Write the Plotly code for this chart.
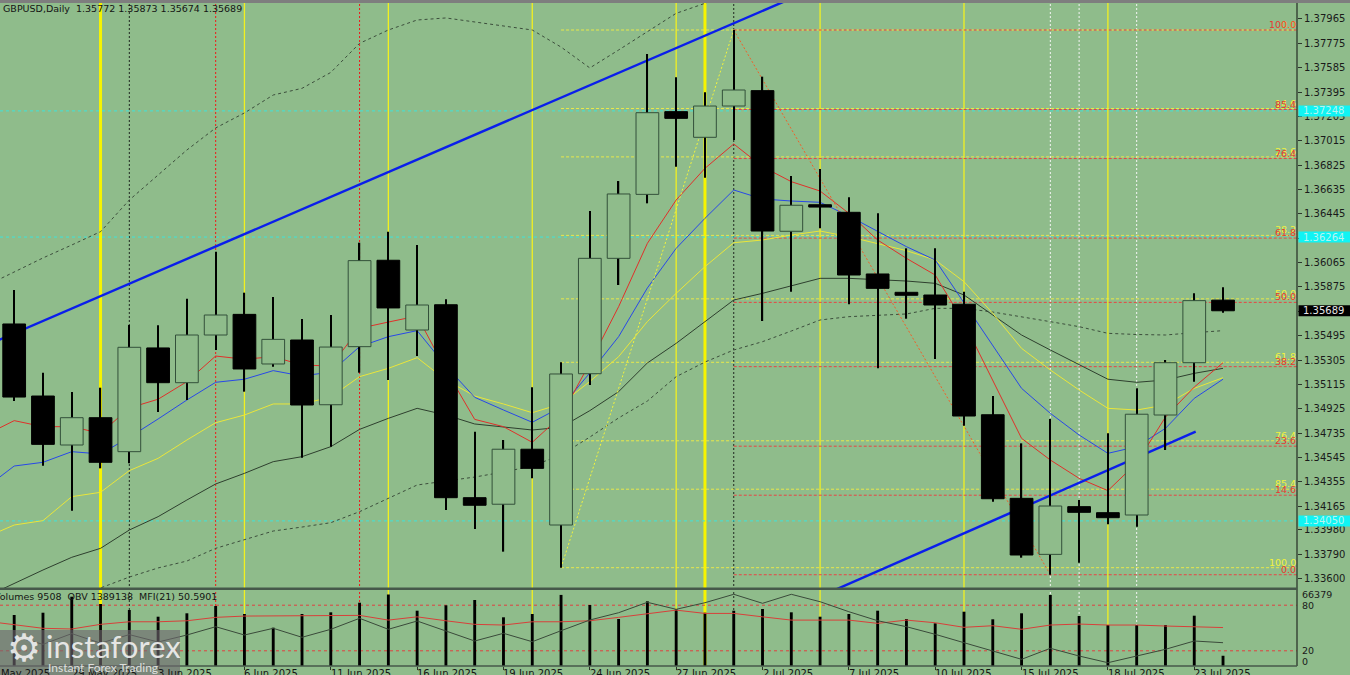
import plotly.graph_objects as go

BG = "#8FBC8B"
FONT = "DejaVu Sans"

# ---------------- data ----------------
dates = ["27 May", "28 May", "29 May", "30 May", "2 Jun", "3 Jun", "4 Jun", "5 Jun", "6 Jun",
         "9 Jun", "10 Jun", "11 Jun", "12 Jun", "13 Jun", "16 Jun", "17 Jun", "18 Jun", "19 Jun",
         "20 Jun", "23 Jun", "24 Jun", "25 Jun", "26 Jun", "27 Jun", "30 Jun", "1 Jul", "2 Jul",
         "3 Jul", "4 Jul", "7 Jul", "8 Jul", "9 Jul", "10 Jul", "11 Jul", "14 Jul", "15 Jul",
         "16 Jul", "17 Jul", "18 Jul", "21 Jul", "22 Jul", "23 Jul", "24 Jul"]

opens = [1.35586, 1.35024, 1.34642, 1.34855, 1.34590, 1.35399, 1.35128, 1.35500, 1.35661,
         1.35274, 1.35461, 1.34956, 1.35409, 1.36083, 1.35539, 1.35736, 1.34231, 1.34180,
         1.34609, 1.34018, 1.35198, 1.36098, 1.36597, 1.37242, 1.37042, 1.37286, 1.37406,
         1.36309, 1.36516, 1.36457, 1.35976, 1.35833, 1.35812, 1.35740, 1.34878, 1.34226,
         1.33789, 1.34161, 1.34114, 1.34096, 1.34876, 1.35284, 1.35772]
highs = [1.35851, 1.35206, 1.35055, 1.35089, 1.35578, 1.35576, 1.35783, 1.36150, 1.35830,
         1.35796, 1.35625, 1.35656, 1.36220, 1.36306, 1.36202, 1.35779, 1.34746, 1.34681,
         1.35092, 1.35287, 1.36467, 1.36701, 1.37692, 1.37510, 1.37393, 1.37879, 1.37515,
         1.36740, 1.36795, 1.36574, 1.36449, 1.36176, 1.36176, 1.35838, 1.35024, 1.34655,
         1.34845, 1.34213, 1.34733, 1.35084, 1.35305, 1.35825, 1.35873]
lows = [1.34985, 1.34481, 1.34130, 1.34460, 1.34499, 1.34899, 1.34993, 1.35383, 1.35058,
        1.35253, 1.34543, 1.34629, 1.35206, 1.35149, 1.35336, 1.34135, 1.33987, 1.33810,
        1.34382, 1.33685, 1.35110, 1.35890, 1.36527, 1.36813, 1.36727, 1.37021, 1.35609,
        1.35838, 1.36332, 1.35740, 1.35240, 1.35627, 1.35313, 1.34793, 1.34200, 1.33763,
        1.33630, 1.33724, 1.34023, 1.34005, 1.34603, 1.35136, 1.35674]
closes = [1.35016, 1.34647, 1.34855, 1.34507, 1.35404, 1.35128, 1.35500, 1.35656, 1.35235,
          1.35466, 1.34954, 1.35406, 1.36080, 1.35711, 1.35734, 1.34231, 1.34172, 1.34609,
          1.34460, 1.35196, 1.36098, 1.36600, 1.37234, 1.37190, 1.37286, 1.37411, 1.36311,
          1.36512, 1.36498, 1.35968, 1.35864, 1.35810, 1.35734, 1.34868, 1.34223, 1.33784,
          1.34166, 1.34117, 1.34075, 1.34882, 1.35284, 1.35768, 1.35689]

volumes = [47350, 49480, 64340, 57560, 51990, 45770, 48930, 55700, 48280, 35560, 48280,
           49850, 58770, 66379, 51340, 56350, 61270, 45210, 48280, 66000, 56630, 43630,
           60070, 52640, 49480, 51340, 52920, 49850, 45770, 48280, 51340, 43630, 39640,
           50410, 43360, 48930, 65920, 46420, 38060, 38060, 38060, 46700, 9508]
obv = [1427500, 1379500, 1443700, 1386700, 1437700, 1393300, 1435300, 1485100, 1435300,
       1475500, 1421500, 1469500, 1535500, 1469500, 1519300, 1459300, 1399300, 1445500,
       1395100, 1461100, 1525300, 1569100, 1631500, 1589500, 1629100, 1679500, 1625500,
       1679500, 1635100, 1575100, 1521100, 1485100, 1439500, 1389100, 1341100, 1289500,
       1355500, 1309300, 1269100, 1309300, 1349500, 1399300, 1389138]

# indicator series: first value belongs to the bar before 27 May (26 May)
mfi = [59.1, 54.6, 49.6, 48.7, 54.8, 58.2, 58.2, 59.5, 64.0, 65.7, 65.7, 66.0, 66.6, 66.6,
       60.4, 64.7, 59.5, 54.8, 53.9, 58.2, 58.2, 59.5, 64.0, 68.3, 73.5, 69.2, 69.2, 64.7,
       60.4, 60.4, 60.4, 56.1, 60.4, 56.9, 50.9, 53.0, 48.3, 53.9, 55.2, 53.9, 53.9, 52.6,
       51.7, 50.5901]
ma_red = [1.34720, 1.34832, 1.34785, 1.34785, 1.34733, 1.34931, 1.34999, 1.35136, 1.35336,
          1.35311, 1.35331, 1.35266, 1.35258, 1.35552, 1.35601, 1.35648, 1.35227, 1.34842,
          1.34785, 1.34663, 1.34868, 1.35282, 1.35721, 1.36215, 1.36553, 1.36800, 1.36990,
          1.36813, 1.36696, 1.36623, 1.36449, 1.36241, 1.36098, 1.35968, 1.35597, 1.35149,
          1.34694, 1.34525, 1.34382, 1.34286, 1.34502, 1.34860, 1.35094, 1.35284]
ma_blue = [1.34307, 1.34478, 1.34507, 1.34590, 1.34572, 1.34702, 1.34845, 1.34993, 1.35131,
           1.35155, 1.35222, 1.35180, 1.35211, 1.35409, 1.35487, 1.35534, 1.35258, 1.35014,
           1.34915, 1.34819, 1.34938, 1.35204, 1.35487, 1.35867, 1.36176, 1.36410, 1.36631,
           1.36561, 1.36545, 1.36535, 1.36428, 1.36307, 1.36189, 1.36085, 1.35750, 1.35422,
           1.35084, 1.34889, 1.34720, 1.34577, 1.34629, 1.34772, 1.35006, 1.35155]
ma_yellow = [1.33921, 1.34018, 1.34052, 1.34239, 1.34273, 1.34442, 1.34538, 1.34681, 1.34816,
             1.34876, 1.34962, 1.34962, 1.35016, 1.35175, 1.35240, 1.35323, 1.35149, 1.35024,
             1.34962, 1.34894, 1.34962, 1.35137, 1.35331, 1.35605, 1.35825, 1.36033, 1.36220,
             1.36241, 1.36280, 1.36311, 1.36267, 1.36215, 1.36158, 1.36085, 1.35916, 1.35669,
             1.35396, 1.35227, 1.35071, 1.34928, 1.34915, 1.34954, 1.35084, 1.35167]
ma_black = [1.33457, 1.33563, 1.33667, 1.33766, 1.33836, 1.33979, 1.34083, 1.34213, 1.34338,
            1.34421, 1.34512, 1.34551, 1.34629, 1.34764, 1.34850, 1.34928, 1.34876, 1.34806,
            1.34785, 1.34759, 1.34780, 1.34910, 1.35058, 1.35282, 1.35435, 1.35604, 1.35773,
            1.35825, 1.35885, 1.35942, 1.35942, 1.35933, 1.35921, 1.35903, 1.35812, 1.35656,
            1.35500, 1.35383, 1.35266, 1.35155, 1.35131, 1.35149, 1.35201, 1.35240]
band_lower = [1.33144, 1.33238, 1.33339, 1.33433, 1.33527, 1.33612, 1.33683, 1.33737, 1.33836,
              1.33901, 1.33971, 1.34002, 1.34036, 1.34122, 1.34229, 1.34330, 1.34361, 1.34392,
              1.34431, 1.34478, 1.34564, 1.34704, 1.34853, 1.34985, 1.35175, 1.35289, 1.35383,
              1.35448, 1.35531, 1.35617, 1.35643, 1.35656, 1.35664, 1.35708, 1.35708, 1.35679,
              1.35643, 1.35604, 1.35565, 1.35513, 1.35504, 1.35500, 1.35518, 1.35534]
band_upper = [1.35882, 1.35991, 1.36101, 1.36202, 1.36306, 1.36553, 1.36748, 1.36943, 1.37115,
              1.37232, 1.37372, 1.37424, 1.37548, 1.37775, 1.37879, 1.37957, 1.37973, 1.37941,
              1.37910, 1.37879, 1.37746, 1.37583, 1.37723, 1.37863, 1.38009, 1.38087, 1.38175] \
    + [None] * 17

price_ticks = ["1.37965", "1.37775", "1.37585", "1.37395", "1.37205", "1.37015", "1.36825",
               "1.36635", "1.36445", "1.36255", "1.36065", "1.35875", "1.35685", "1.35495",
               "1.35305", "1.35115", "1.34925", "1.34735", "1.34545", "1.34355", "1.34165",
               "1.33980", "1.33790", "1.33600"]
date_tick_pos = [-1, 2, 5, 8, 11, 14, 17, 20, 23, 26, 29, 32, 35, 38, 41]
date_tick_labels = ["26 May 2025", "29 May 2025", "3 Jun 2025", "6 Jun 2025", "11 Jun 2025",
                    "16 Jun 2025", "19 Jun 2025", "24 Jun 2025", "27 Jun 2025", "2 Jul 2025",
                    "7 Jul 2025", "10 Jul 2025", "15 Jul 2025", "18 Jul 2025", "23 Jul 2025"]

fib_levels = [0.0, 14.6, 23.6, 38.2, 50.0, 61.8, 76.4, 85.4, 100.0]
red_fib = dict(i_from=25, i_to=36, high=1.37879, low=1.33630)      # 0 at low, 100 at high
yellow_fib = dict(i_from=19, i_to=25, low=1.33685, high=1.37879)   # 0 at high, 100 at low
trend1 = dict(x=[-0.6, 27.0], y=[1.35455, 1.38125])
trend2 = dict(x=[28.5, 41.05], y=[1.33510, 1.34746])
cyan_levels = [1.37248, 1.36264, 1.34050]
vl_yellow_thick = [3, 24]
vl_yellow_thin = [8, 13, 18, 23, 28, 33, 38]
vl_red_dot = [7, 12]
vl_black_dot = [4, 25]
vl_white_dot = [36, 37, 39]

# ---------------- geometry ----------------
XMIN, XMAX = -0.493, 44.57
YMIN, YMAX = 1.335266, 1.380896
PLOT_H = 663.0
MAIN_D0 = 78 / PLOT_H
LOW_D1 = 76 / PLOT_H

def paper_x(i):
    return (i - XMIN) / (XMAX - XMIN)

def paper_y(p):
    return MAIN_D0 + (p - YMIN) / (YMAX - YMIN) * (1 - MAIN_D0)

n = len(dates)
xi = list(range(n))
xm = [-1] + xi

fig = go.Figure()

def add_line(x, y, color, width=1.0, dash=None, xa="x", ya="y"):
    fig.add_trace(go.Scatter(x=x, y=y, mode="lines", xaxis=xa, yaxis=ya, hoverinfo="skip",
                             line=dict(color=color, width=width, dash=dash)))

# bands and moving averages (behind candles)
add_line(xm, band_upper, "#3C4E3C", 1, "3px,3px")
add_line(xm, band_lower, "#3C4E3C", 1, "3px,3px")
add_line(xm, ma_black, "#2E3F2E", 1)
add_line(xm, ma_yellow, "#EAE63A", 1)
add_line(xm, ma_blue, "#2848E8", 1)
add_line(xm, ma_red, "#E0302A", 1)

# fib diagonals
add_line([red_fib["i_from"], red_fib["i_to"]], [red_fib["high"], red_fib["low"]], "#F0602A", 1, "2px,2px")
add_line([yellow_fib["i_from"], yellow_fib["i_to"]], [yellow_fib["low"], yellow_fib["high"]], "#F4F43C", 1, "2px,2px")

# trend lines
add_line(trend1["x"], trend1["y"], "#0A1EEB", 2.4)
add_line(trend2["x"], trend2["y"], "#0A1EEB", 2.4)

# candles on overlay axis so they are drawn over the lines
fig.add_trace(go.Bar(x=xi, base=lows, y=[h - l for h, l in zip(highs, lows)], width=0.045,
                     marker=dict(color="#000000", line=dict(width=0)), xaxis="x", yaxis="y5",
                     hoverinfo="skip"))
bull = [c > o for o, c in zip(opens, closes)]
fig.add_trace(go.Bar(x=xi, base=[min(o, c) for o, c in zip(opens, closes)],
                     y=[max(abs(c - o), 0.00003) for o, c in zip(opens, closes)], width=0.79,
                     marker=dict(color=[BG if b else "#000000" for b in bull],
                                 line=dict(color=["#33503A" if b else "#000000" for b in bull], width=1)),
                     xaxis="x", yaxis="y5", hoverinfo="skip"))

# lower panel: volumes, MFI, OBV
fig.add_trace(go.Bar(x=xi, y=volumes, width=0.1, marker=dict(color="#000000", line=dict(width=0)),
                     xaxis="x2", yaxis="y2", hoverinfo="skip"))
add_line(xm, mfi, "#D8403A", 1, None, "x2", "y3")
add_line(xi, obv, "#3A4A3A", 1, None, "x2", "y4")

shapes = []
def vline(i, color, width, dash=None):
    shapes.append(dict(type="line", xref="x", yref="paper", x0=i, x1=i, y0=0, y1=1,
                       line=dict(color=color, width=width, dash=dash), layer="below"))

for i in vl_yellow_thin:
    vline(i, "#F2F020", 1.3)
for i in vl_yellow_thick:
    vline(i, "#F6F400", 3)
for i in vl_red_dot:
    vline(i, "#F01818", 1, "2px,2px")
for i in vl_black_dot:
    vline(i, "#202820", 1, "2px,2px")
for i in vl_white_dot:
    vline(i, "#F4F4F4", 1, "2px,2px")

for p in cyan_levels:
    shapes.append(dict(type="line", xref="paper", yref="y", x0=0, x1=1, y0=p, y1=p,
                       line=dict(color="#3FE4DA", width=1, dash="3px,3px"), layer="below"))

annotations = []
yr = yellow_fib["high"] - yellow_fib["low"]
rr = red_fib["high"] - red_fib["low"]
for lv in fib_levels:
    p = yellow_fib["high"] - lv / 100 * yr
    shapes.append(dict(type="line", xref="x", yref="y", x0=yellow_fib["i_from"], x1=XMAX, y0=p, y1=p,
                       line=dict(color="#E8E84A", width=1, dash="3px,2px"), layer="below"))
    annotations.append(dict(xref="paper", yref="y", x=1, y=p, xanchor="right", yanchor="bottom",
                            text=f"{lv:.1f}", showarrow=False, borderpad=0, yshift=-1,
                            font=dict(family=FONT, size=9.5, color="#F2F23C")))
for lv in fib_levels:
    p = red_fib["low"] + lv / 100 * rr
    shapes.append(dict(type="line", xref="x", yref="y", x0=red_fib["i_from"], x1=XMAX, y0=p, y1=p,
                       line=dict(color="#E84444", width=1, dash="3px,2px"), layer="below"))
    annotations.append(dict(xref="paper", yref="y", x=1, y=p, xanchor="right", yanchor="bottom",
                            text=f"{lv:.1f}", showarrow=False, borderpad=0, yshift=-1,
                            font=dict(family=FONT, size=9.5, color="#E83A30")))

# MFI levels
for lv in (80, 20):
    shapes.append(dict(type="line", xref="paper", yref="y3", x0=0, x1=1, y0=lv, y1=lv,
                       line=dict(color="#E04040", width=1, dash="3px,3px"), layer="below"))

# frame: top strip, axis line, separator, bottom line
shapes.append(dict(type="rect", xref="paper", yref="paper", x0=-0.01, x1=1.06, y0=1, y1=1.02,
                   fillcolor="#7E7E7E", line=dict(width=0), layer="above"))
shapes.append(dict(type="line", xref="paper", yref="paper", x0=1, x1=1, y0=0, y1=1,
                   line=dict(color="#2C362C", width=1.3), layer="above"))
sep = (666 - 588.8) / PLOT_H
shapes.append(dict(type="line", xref="paper", yref="paper", x0=0, x1=1, y0=sep, y1=sep,
                   line=dict(color="#46584A", width=2.6), layer="above"))
shapes.append(dict(type="line", xref="paper", yref="paper", x0=0, x1=1, y0=0, y1=0,
                   line=dict(color="#46584A", width=1.5), layer="above"))

# axis price boxes
def price_box(p, fill, txtcolor):
    py = paper_y(p)
    shapes.append(dict(type="rect", xref="paper", yref="paper", x0=1 + 1.5 / 1297, x1=1 + 53 / 1297,
                       y0=py - 5.5 / PLOT_H, y1=py + 5.5 / PLOT_H, fillcolor=fill,
                       line=dict(width=0), layer="above"))
    annotations.append(dict(xref="paper", yref="y", x=1, y=p, xanchor="left", yanchor="middle",
                            xshift=5, text=f"{p:.5f}", showarrow=False, borderpad=0,
                            font=dict(family=FONT, size=10, color=txtcolor)))

for p in cyan_levels:
    price_box(p, "#10F4F4", "#B8F4F0")
price_box(closes[-1], "#000000", "#E6E6E6")

# header texts
annotations.append(dict(xref="paper", yref="paper", x=0, y=1, xanchor="left", yanchor="top",
                        xshift=2, yshift=1, showarrow=False, borderpad=0,
                        text="GBPUSD,Daily\u00a0\u00a0" + " ".join(f"{v:.5f}" for v in
                             (opens[-1], highs[-1], lows[-1], closes[-1])),
                        font=dict(family=FONT, size=9.5, color="#141414")))
annotations.append(dict(xref="paper", yref="paper", x=0, y=LOW_D1, xanchor="left", yanchor="top",
                        xshift=-7, yshift=0, showarrow=False, borderpad=0,
                        text=f"Volumes {volumes[-1]}\u00a0\u00a0OBV {obv[-1]}\u00a0\u00a0MFI(21) {mfi[-1]:.4f}",
                        font=dict(family=FONT, size=9.5, color="#141414")))

# lower panel scale labels
for txt, yv in (("66379", 94.7), ("80", 80), ("20", 20), ("0", 5.3)):
    annotations.append(dict(xref="paper", yref="y3", x=1, y=yv, xanchor="left", yanchor="middle",
                            xshift=4, text=txt, showarrow=False, borderpad=0,
                            font=dict(family=FONT, size=9.5, color="#1A1A1A")))

# date labels
for pos, lab in zip(date_tick_pos, date_tick_labels):
    annotations.append(dict(xref="paper", yref="paper", x=paper_x(pos), y=0, xanchor="left",
                            yanchor="top", yshift=-1, xshift=-1, text=lab, showarrow=False, borderpad=0,
                            font=dict(family=FONT, size=10, color="#141414")))

# instaforex logo
shapes.append(dict(type="rect", xref="paper", yref="paper", x0=0, x1=180 / 1297,
                   y0=-0.03, y1=(666 - 630) / PLOT_H, fillcolor="rgba(112,104,112,0.62)",
                   line=dict(width=0), layer="above"))
annotations.append(dict(xref="paper", yref="paper", x=24 / 1297, y=(666 - 648) / PLOT_H,
                        xanchor="center", yanchor="middle", text="\u2699", showarrow=False,
                        font=dict(family="DejaVu Sans", size=38, color="rgba(238,238,238,0.92)")))
annotations.append(dict(xref="paper", yref="paper", x=45 / 1297, y=(666 - 646) / PLOT_H,
                        xanchor="left", yanchor="middle", text="instaforex", showarrow=False,
                        borderpad=0, font=dict(family="Lato", size=31, color="rgba(240,240,240,0.92)")))
annotations.append(dict(xref="paper", yref="paper", x=47 / 1297, y=(666 - 667) / PLOT_H,
                        xanchor="left", yanchor="middle", text="Instant Forex Trading",
                        showarrow=False, borderpad=0,
                        font=dict(family="Lato", size=12, color="rgba(235,235,235,0.9)")))

fig.update_layout(
    width=1350, height=675, autosize=False,
    margin=dict(l=0, r=53, t=3, b=9),
    paper_bgcolor=BG, plot_bgcolor=BG,
    showlegend=False, hovermode=False, barmode="overlay",
    xaxis=dict(domain=[0, 1], range=[XMIN, XMAX], anchor="y", showticklabels=False,
               showgrid=False, zeroline=False, ticks=""),
    xaxis2=dict(domain=[0, 1], range=[XMIN, XMAX], anchor="y2", matches="x",
                showticklabels=False, showgrid=False, zeroline=False, ticks="outside",
                tickvals=date_tick_pos, ticklen=3, tickcolor="#2C362C"),
    yaxis=dict(domain=[MAIN_D0, 1], range=[YMIN, YMAX], anchor="x", side="right",
               tickvals=[float(t) for t in price_ticks], ticktext=price_ticks,
               ticks="outside", ticklen=4, tickcolor="#2C362C", showgrid=False, zeroline=False,
               tickfont=dict(family=FONT, size=10, color="#1A1A1A")),
    yaxis5=dict(overlaying="y", range=[YMIN, YMAX], anchor="x", visible=False),
    yaxis2=dict(domain=[0, LOW_D1], range=[0, 70560], anchor="x2", visible=False),
    yaxis3=dict(overlaying="y2", range=[0, 100], anchor="x2", visible=False),
    yaxis4=dict(overlaying="y2", range=[1249338, 1705338], anchor="x2", visible=False),
    shapes=shapes,
    annotations=annotations,
)

fig.write_html("out.html", config={"displayModeBar": False},
               post_script="document.body.style.margin='0px';document.body.style.padding='0px';"
                           "document.body.style.overflow='hidden';")
